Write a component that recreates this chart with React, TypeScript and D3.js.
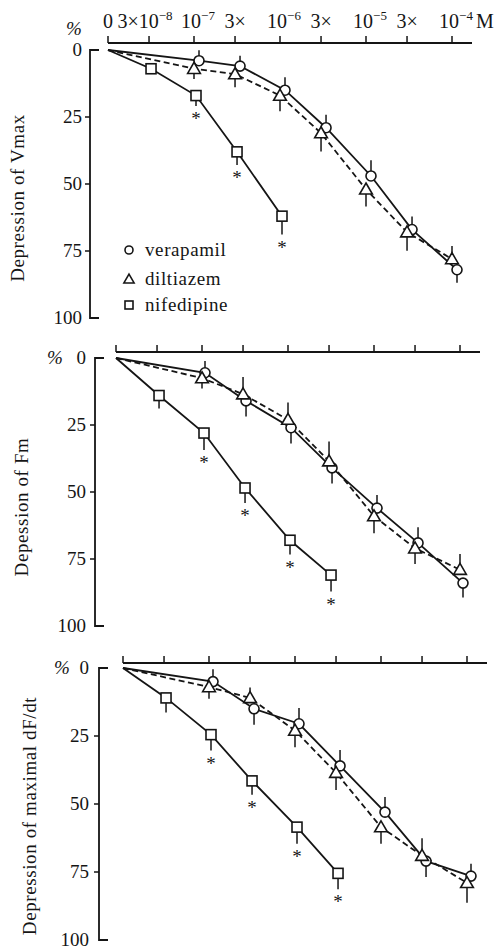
import * as d3 from "d3";

// concentrations (M); 0 is drawn at the 1e-8 position
const tickConc = [0, 3e-8, 1e-7, 3e-7, 1e-6, 3e-6, 1e-5, 3e-5, 1e-4];
const tickLabels = [
  ["0", ""],
  ["3×10", "−8"],
  ["10", "−7"],
  ["3×", ""],
  ["10", "−6"],
  ["3×", ""],
  ["10", "−5"],
  ["3×", ""],
  ["10", "−4"],
];
const yTicks = [0, 25, 50, 75, 100];

const ccbConc = [0, 1e-7, 3e-7, 1e-6, 3e-6, 1e-5, 3e-5, 1e-4];
const nifVmaxConc = [0, 3e-8, 1e-7, 3e-7, 1e-6];
const nifConc = [0, 3e-8, 1e-7, 3e-7, 1e-6, 3e-6];

// % depression; err sign = direction of the one-sided error bar (+ down)
const verapamilVmax = [0, 4, 6, 15, 29, 47, 67, 82];
const verapamilVmaxErr = [0, -2, -2, -3, -3, -4, -3, 3];
const diltiazemVmax = [0, 7, 9, 17, 31, 52, 68, 78];
const diltiazemVmaxErr = [0, 2, 3, 4, 5, 4.5, 5, -3];
const nifedipineVmax = [0, 7, 17, 38, 62];
const nifedipineVmaxErr = [0, 0, 2, 3, 5];
const nifedipineVmaxSig = [false, false, true, true, true];

const verapamilFm = [0, 5.5, 16, 26, 41, 56, 69, 84];
const verapamilFmErr = [0, -2.5, 4, 4, 4, -3, -4, 3.5];
const diltiazemFm = [0, 7.5, 13.5, 23, 38.5, 59, 71, 79];
const diltiazemFmErr = [0, 2, -4.5, -4.5, -5.5, 4.5, 4, -4];
const nifedipineFm = [0, 14, 28, 48.5, 68, 81];
const nifedipineFmErr = [0, 3, 4.5, 3.7, 3.5, 4.3];
const nifedipineFmSig = [false, false, true, true, true, true];

const verapamilDfdt = [0, 5, 15, 20.5, 36, 53, 71, 76.5];
const verapamilDfdtErr = [0, -2.7, 4, -4, -4, -3.7, 4, -2.7];
const diltiazemDfdt = [0, 7, 11, 23, 38.5, 58.5, 69, 79];
const diltiazemDfdtErr = [0, 2.5, -2, 4.3, 4.5, 4.3, -4.6, 5.5];
const nifedipineDfdt = [0, 11, 24.5, 41.5, 58.5, 75.5];
const nifedipineDfdtErr = [0, 3.5, 4, 3.3, 4.3, 4];
const nifedipineDfdtSig = [false, false, true, true, true, true];

const legendNames = ["verapamil", "diltiazem", "nifedipine"];

type Series = {
  conc: number[];
  vals: number[];
  err: number[];
  sig?: boolean[];
  shape: "circle" | "triangle" | "square";
  dashed: boolean;
  dx: number;
};

const panels = [
  {
    x0: 108, axisY: 43, yAxisX: 90, y0: 50, y100: 318,
    title: "Depression of Vmax", titleX: 24, titleY: 198, pctX: 74, pctY: 35, labelEnd: 82,
    series: [
      { conc: ccbConc, vals: verapamilVmax, err: verapamilVmaxErr, shape: "circle", dashed: false, dx: 5 },
      { conc: ccbConc, vals: diltiazemVmax, err: diltiazemVmaxErr, shape: "triangle", dashed: true, dx: 0 },
      { conc: nifVmaxConc, vals: nifedipineVmax, err: nifedipineVmaxErr, sig: nifedipineVmaxSig, shape: "square", dashed: false, dx: 2 },
    ] as Series[],
  },
  {
    x0: 116, axisY: 352, yAxisX: 95, y0: 358, y100: 626,
    title: "Depession of Fm", titleX: 28, titleY: 507, pctX: 55, pctY: 364, labelEnd: 86,
    series: [
      { conc: ccbConc, vals: verapamilFm, err: verapamilFmErr, shape: "circle", dashed: false, dx: 3 },
      { conc: ccbConc, vals: diltiazemFm, err: diltiazemFmErr, shape: "triangle", dashed: true, dx: 0 },
      { conc: nifConc, vals: nifedipineFm, err: nifedipineFmErr, sig: nifedipineFmSig, shape: "square", dashed: false, dx: 2 },
    ] as Series[],
  },
  {
    x0: 123, axisY: 663, yAxisX: 99, y0: 668, y100: 940,
    title: "Depression of maximal dF/dt", titleX: 36, titleY: 816, pctX: 62, pctY: 674, labelEnd: 89,
    series: [
      { conc: ccbConc, vals: verapamilDfdt, err: verapamilDfdtErr, shape: "circle", dashed: false, dx: 4 },
      { conc: ccbConc, vals: diltiazemDfdt, err: diltiazemDfdtErr, shape: "triangle", dashed: true, dx: 0 },
      { conc: nifConc, vals: nifedipineDfdt, err: nifedipineDfdtErr, sig: nifedipineDfdtSig, shape: "square", dashed: false, dx: 2 },
    ] as Series[],
  },
];

const FONT = "'Liberation Serif', 'DejaVu Serif', serif";
const INK = "#151515";

function Marker({ shape, x, y, small }: { shape: string; x: number; y: number; small?: boolean }) {
  const common = { fill: "white", stroke: INK, strokeWidth: 1.6 };
  const k = small ? 0.8 : 1;
  if (shape === "circle") return <circle cx={x} cy={y} r={5 * k} {...common} />;
  if (shape === "square") return <rect x={x - 5 * k} y={y - 5 * k} width={10 * k} height={10 * k} {...common} />;
  const tri = d3.symbol(d3.symbolTriangle, 70 * k * k)()!;
  return <path d={tri} transform={`translate(${x},${y + 1})`} {...common} />;
}

function Panel({ p, first }: { p: (typeof panels)[number]; first: boolean }) {
  const x = d3.scaleLog().domain([1e-8, 1e-4]).range([p.x0, p.x0 + 344]);
  const y = d3.scaleLinear().domain([0, 100]).range([p.y0, p.y100]);
  const cx = (c: number) => x(c === 0 ? 1e-8 : c);
  const line = d3
    .line<[number, number]>()
    .x((d) => d[0])
    .y((d) => d[1]);

  return (
    <g>
      {/* x axis on top */}
      <line x1={p.x0} x2={p.x0 + 364} y1={p.axisY} y2={p.axisY} stroke={INK} strokeWidth={1.8} />
      {tickConc.map((c, i) => (
        <line key={i} x1={cx(c)} x2={cx(c)} y1={p.axisY} y2={p.axisY - 7} stroke={INK} strokeWidth={1.5} />
      ))}
      {first &&
        tickConc.map((c, i) => (
          <text key={"l" + i} x={cx(c) + (i === 1 ? -4 : i % 2 === 0 && i > 0 ? 4 : 0)} y={28}
            textAnchor="middle" fontSize={20} fontFamily={FONT} fill={INK}>
            {tickLabels[i][0]}
            {tickLabels[i][1] && (
              <tspan fontSize={13} dy={-8}>{tickLabels[i][1]}</tspan>
            )}
          </text>
        ))}
      {first && (
        <text x={p.x0 + 368} y={28} fontSize={20} fontFamily={FONT} fill={INK}>M</text>
      )}

      {/* y axis bracket */}
      <path
        d={`M${p.yAxisX + 9},${y(0)}H${p.yAxisX}V${y(100)}H${p.yAxisX + 9}`}
        fill="none" stroke={INK} strokeWidth={1.8}
      />
      {yTicks.slice(1, 4).map((t) => (
        <line key={t} x1={p.yAxisX - 5} x2={p.yAxisX} y1={y(t)} y2={y(t)} stroke={INK} strokeWidth={1.5} />
      ))}
      {yTicks.map((t) => (
        <text key={"t" + t} x={p.labelEnd} y={y(t) + 6} textAnchor="end" fontSize={19} fontFamily={FONT} fill={INK}>
          {t}
        </text>
      ))}
      <text x={p.pctX} y={p.pctY} textAnchor="middle" fontSize={19} fontStyle="italic" fontFamily={FONT} fill={INK}>%</text>
      <text
        transform={`translate(${p.titleX},${p.titleY}) rotate(-90)`}
        textAnchor="middle" fontSize={19} letterSpacing={0.6} fontFamily={FONT} fill={INK}
      >
        {p.title}
      </text>

      {/* lines */}
      {p.series.map((s, si) => {
        const pts = s.conc.map((c, i) => [cx(c) + (i === 0 ? 0 : s.dx), y(s.vals[i])] as [number, number]);
        return (
          <path key={"p" + si} d={line(pts)!} fill="none" stroke={INK} strokeWidth={1.8}
            strokeDasharray={s.dashed ? "6,3.5" : undefined} />
        );
      })}
      {/* error bars, markers, asterisks */}
      {p.series.map((s, si) =>
        s.conc.map((c, i) => {
          if (i === 0) return null;
          const px = cx(c) + s.dx;
          const py = y(s.vals[i]);
          const e = s.err[i];
          const ey = y(s.vals[i] + e) + (e > 0 ? 5 : e < 0 ? -5 : 0);
          return (
            <g key={si + "-" + i}>
              {e !== 0 && <line x1={px} x2={px} y1={py} y2={ey} stroke={INK} strokeWidth={1.5} />}
              <Marker shape={s.shape} x={px} y={py} />
              {s.sig && s.sig[i] && (
                <text x={px} y={Math.max(ey, py + 5) + 19} textAnchor="middle" fontSize={19} fontFamily={FONT} fill={INK}>*</text>
              )}
            </g>
          );
        }),
      )}

      {first &&
        legendNames.map((n, i) => {
          const ly = [250, 279, 305][i];
          return (
            <g key={n}>
              <Marker shape={p.series[i].shape} x={129} y={ly} small />
              <text x={145} y={ly + 6} fontSize={19} letterSpacing={0.6} fontFamily={FONT} fill={INK}>{n}</text>
            </g>
          );
        })}
    </g>
  );
}

export default function App() {
  return (
    <svg width={496} height={949} viewBox="0 0 496 949"
      style={{ position: "absolute", left: 0, top: 0, background: "white", display: "block" }}>
      <rect width={496} height={949} fill="white" />
      {panels.map((p, i) => (
        <Panel key={i} p={p} first={i === 0} />
      ))}
    </svg>
  );
}
